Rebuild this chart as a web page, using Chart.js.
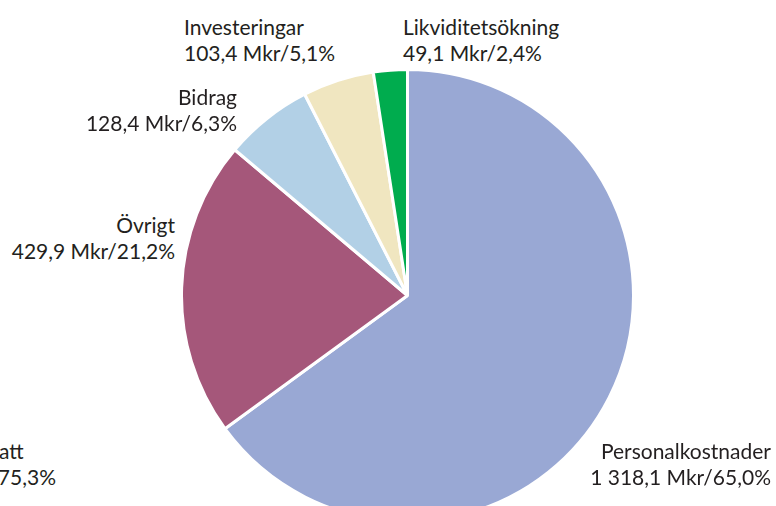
<!DOCTYPE html>
<html>
<head>
<meta charset="utf-8">
<script src="https://cdn.jsdelivr.net/npm/chart.js@4/dist/chart.umd.min.js"></script>
<style>
  html, body { margin: 0; padding: 0; background: #fff; }
  body { width: 776px; height: 506px; overflow: hidden; position: relative; }
  #pieWrap { position: absolute; left: 180px; top: 68px; width: 455px; height: 455px; }
  .lbl {
    position: absolute;
    font-family: 'Lato', 'Open Sans', sans-serif;
    font-size: 21px;
    line-height: 26px;
    color: #231f20;
    white-space: nowrap;
  }
  .right { text-align: right; }
</style>
</head>
<body>
<div id="pieWrap"><canvas id="costChart" width="455" height="455"></canvas></div>
<div id="labels"></div>
<script>
const categories = ['Personalkostnader', 'Övrigt', 'Bidrag', 'Investeringar', 'Likviditetsökning'];
const amounts = [1318.1, 429.9, 128.4, 103.4, 49.1];      // Mkr
const shares = ['65,0', '21,2', '6,3', '5,1', '2,4'];     // %
const sliceColors = ['#99a8d4', '#a5577a', '#b2d0e6', '#f0e6c0', '#00ac4e'];

// label placement (left or right edge, top of first line)
const labelPos = [
  { right: 5, top: 438 },
  { right: 601, top: 212 },
  { right: 539, top: 84 },
  { left: 184, top: 14 },
  { left: 403, top: 14 }
];

function fmt(v) {
  const s = v.toFixed(1).replace('.', ',');
  const [i, d] = s.split(',');
  return i.replace(/\B(?=(\d{3})+(?!\d))/g, ' ') + ',' + d;
}

function buildLabels() {
  const box = document.getElementById('labels');
  categories.forEach((name, i) => {
    const el = document.createElement('div');
    el.className = 'lbl' + (labelPos[i].right !== undefined ? ' right' : '');
    el.style.top = labelPos[i].top + 'px';
    if (labelPos[i].right !== undefined) el.style.right = labelPos[i].right + 'px';
    else el.style.left = labelPos[i].left + 'px';
    el.innerHTML = name + '<br>' + fmt(amounts[i]) + ' Mkr/' + shares[i] + '%';
    box.appendChild(el);
  });
  // fragment of a neighbouring label, cut by the picture's left edge
  const a = document.createElement('div');
  a.className = 'lbl';
  a.style.top = '438px';
  a.style.left = '-1px';
  a.textContent = 'att';
  box.appendChild(a);
  const b = document.createElement('div');
  b.className = 'lbl right';
  b.style.top = '464px';
  b.style.right = (776 - 56) + 'px';
  b.textContent = '75,3%';
  box.appendChild(b);
}

function initChart() {
  const ctx = document.getElementById('costChart').getContext('2d');
  new Chart(ctx, {
    type: 'pie',
    data: {
      labels: categories,
      datasets: [{
        data: amounts,
        backgroundColor: sliceColors,
        borderColor: '#ffffff',
        borderWidth: 3
      }]
    },
    options: {
      responsive: false,
      animation: false,
      layout: { padding: 0 },
      plugins: {
        legend: { display: false },
        tooltip: { enabled: false }
      }
    }
  });
}

buildLabels();
initChart();
</script>
</body>
</html>
